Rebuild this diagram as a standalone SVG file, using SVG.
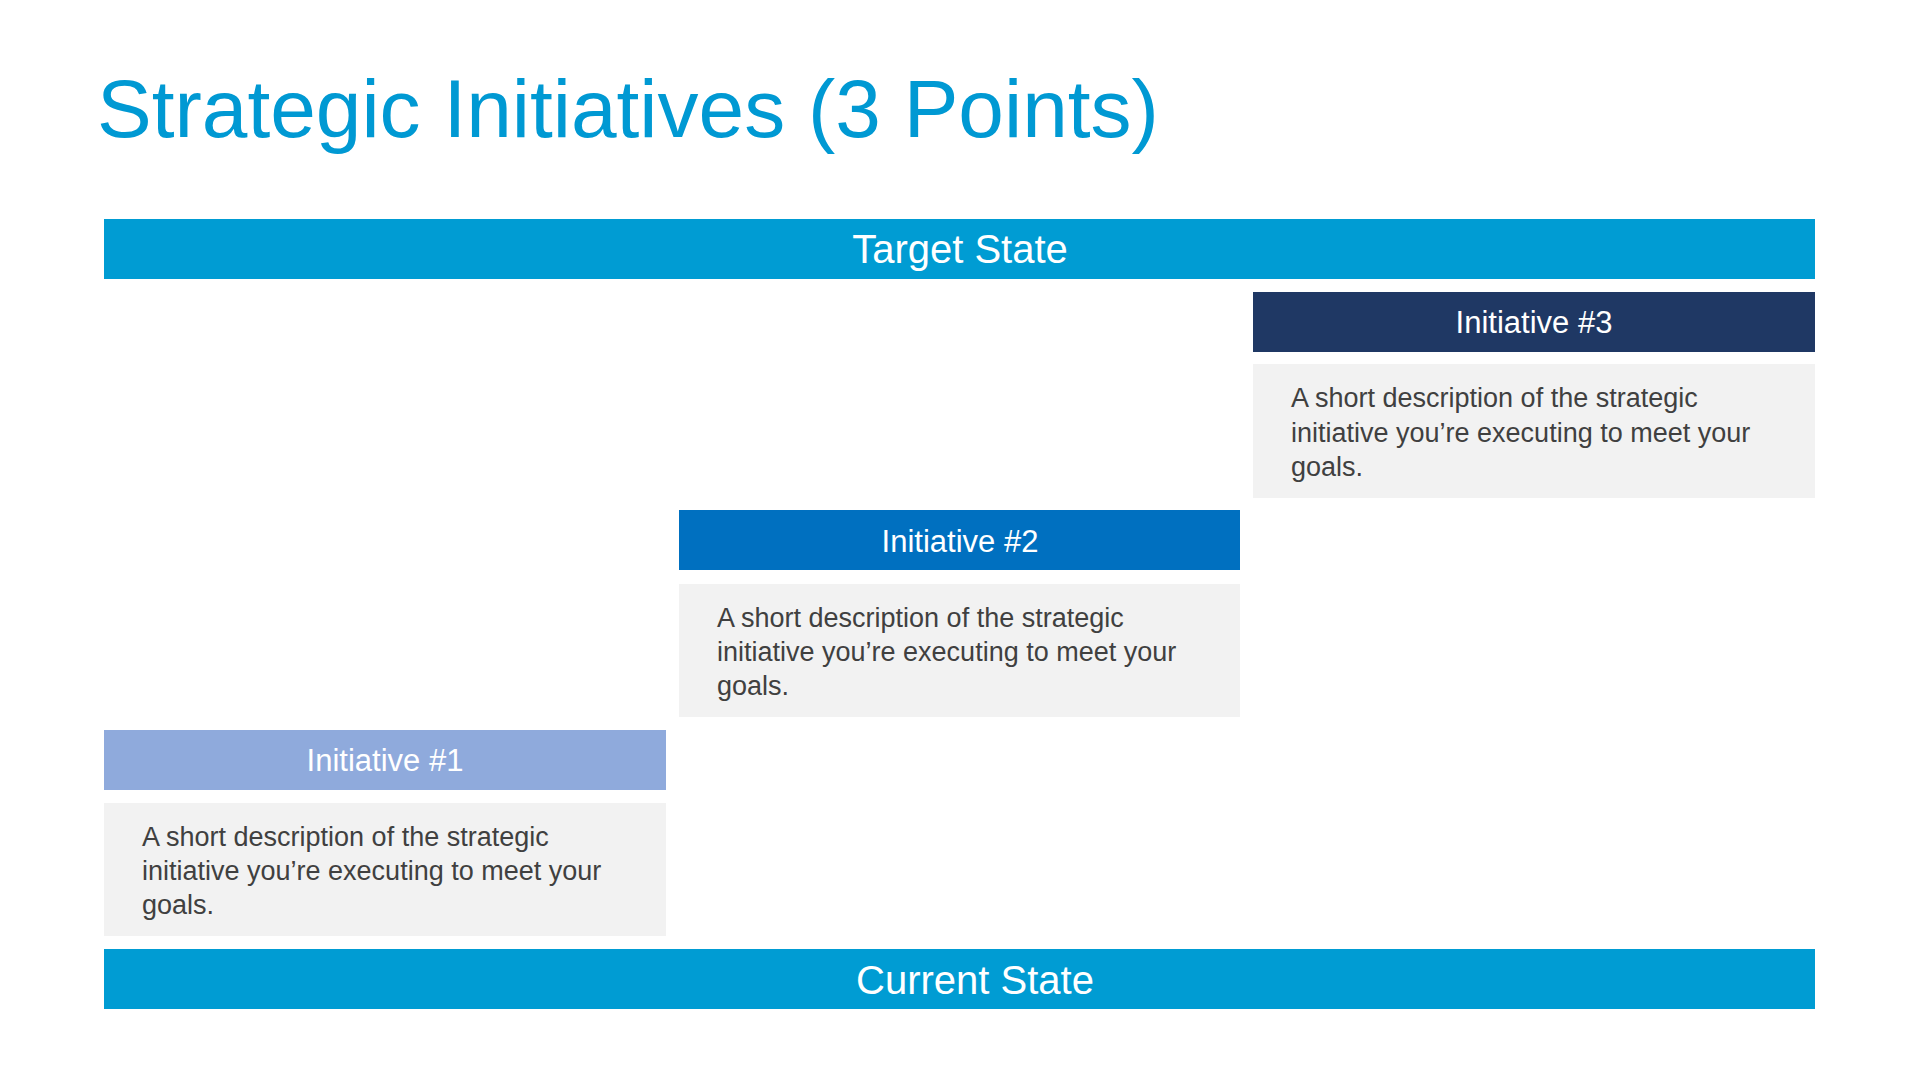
<svg xmlns="http://www.w3.org/2000/svg" width="1920" height="1080" viewBox="0 0 1920 1080">
<style>
text{font-family:"Liberation Sans",Arial,sans-serif}
.bar{fill:#009CD3}
.hd{fill:#fff;font-size:31px;text-anchor:middle}
.big{fill:#fff;font-size:40px;text-anchor:middle}
.box{fill:#F2F2F2}
.ds{fill:#404040;font-size:27px}
</style>
<rect width="1920" height="1080" fill="#fff"/>
<text x="97" y="137" font-size="82" fill="#0099D3">Strategic Initiatives (3 Points)</text>
<g id="target"><rect class="bar" x="104" y="219" width="1711" height="60"/><text class="big" x="960" y="263">Target State</text></g>
<g id="init3"><rect x="1253" y="292" width="562" height="60" fill="#1F3864"/><text class="hd" x="1534" y="333">Initiative #3</text>
<rect class="box" x="1253" y="364" width="562" height="134"/>
<text class="ds" x="1291" y="407">A short description of the strategic</text><text class="ds" x="1291" y="442">initiative you’re executing to meet your</text><text class="ds" x="1291" y="476">goals.</text></g>
<g id="init2"><rect x="679" y="510" width="561" height="60" fill="#0070C0"/><text class="hd" x="960" y="552">Initiative #2</text>
<rect class="box" x="679" y="584" width="561" height="133"/>
<text class="ds" x="717" y="627">A short description of the strategic</text><text class="ds" x="717" y="661">initiative you’re executing to meet your</text><text class="ds" x="717" y="695">goals.</text></g>
<g id="init1"><rect x="104" y="730" width="562" height="60" fill="#8FAADC"/><text class="hd" x="385" y="771">Initiative #1</text>
<rect class="box" x="104" y="803" width="562" height="133"/>
<text class="ds" x="142" y="846">A short description of the strategic</text><text class="ds" x="142" y="880">initiative you’re executing to meet your</text><text class="ds" x="142" y="914">goals.</text></g>
<g id="current"><rect class="bar" x="104" y="949" width="1711" height="60"/><text class="big" x="975" y="994">Current State</text></g>
<g id="connectors"/>
</svg>
